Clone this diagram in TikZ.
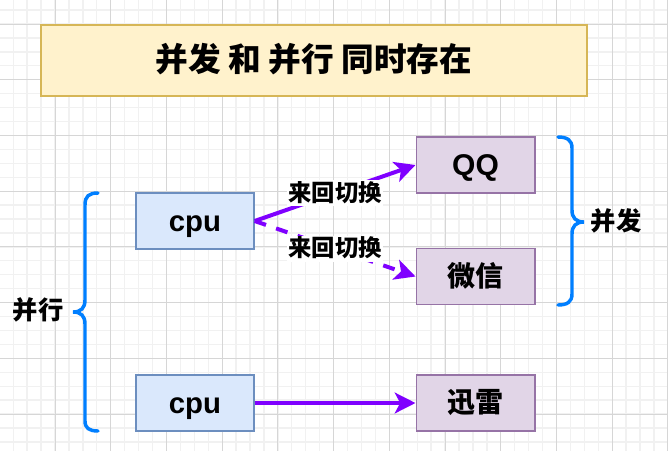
\documentclass[tikz,border=0pt]{standalone}
\usepackage{fontspec}
\setmainfont{Liberation Sans}
\newfontfamily\cjk{Noto Sans CJK SC}
\usetikzlibrary{arrows.meta}
\definecolor{minorc}{HTML}{F1F1F1}
\definecolor{majorc}{HTML}{D6D6D6}
\definecolor{titlefill}{HTML}{FFF2CC}
\definecolor{titledraw}{HTML}{D6B656}
\definecolor{bluefill}{HTML}{DAE8FC}
\definecolor{bluedraw}{HTML}{6C8EBF}
\definecolor{purfill}{HTML}{E1D5E7}
\definecolor{purdraw}{HTML}{9673A6}
\definecolor{arrowc}{HTML}{7F00FF}
\definecolor{bracec}{HTML}{007FFF}
\tikzset{
  minorline/.style={draw=minorc, line width=1pt},
  majorline/.style={draw=majorc, line width=0.7pt},
  titlebox/.style={draw=titledraw, fill=titlefill, line width=1pt, minimum width=409.5pt, minimum height=53.25pt, text height=22pt, text depth=5.1pt, font=\cjk\bfseries\fontsize{24.5}{28}\selectfont},
  cpubox/.style={draw=bluedraw, fill=bluefill, line width=1pt, minimum width=88.5pt, minimum height=42pt, text height=19.8pt, text depth=4.6pt, font=\bfseries\fontsize{22}{25}\selectfont},
  appbox/.style={draw=purdraw, fill=purfill, line width=1pt, minimum width=89pt, minimum height=42pt, text height=20.2pt, text depth=4.7pt, font=\bfseries\fontsize{22.5}{25}\selectfont},
  cjkapp/.style={appbox, text height=18.9pt, text depth=4.4pt, font=\cjk\bfseries\fontsize{21}{24}\selectfont},
  sidelabel/.style={font=\cjk\bfseries\fontsize{19}{22}\selectfont, inner sep=0pt, text height=17.1pt, text depth=4pt},
  edgelabel/.style={fill=white, inner xsep=1pt, inner ysep=0pt, text height=15.75pt, text depth=3.7pt, font=\cjk\bfseries\fontsize{17.5}{20}\selectfont},
  link/.style={draw=arrowc, line width=3pt, -{Stealth[length=15.5pt, width=15.5pt, inset=4pt]}},
  bracepath/.style={draw=bracec, line width=2.6pt, line cap=round},
}
\begin{document}
\begin{tikzpicture}[x=0.75pt, y=-0.75pt]
\useasboundingbox (0,0) rectangle (668,451);
\fill[white] (0,0) rectangle (668,451);
% grid
\foreach \i in {0,...,48} {\draw[minorline] ({-0.7+13.93*\i},0) -- ++(0,451);}
\foreach \i in {-2,...,31} {\draw[minorline] (0,{24+13.93*\i}) -- ++(668,0);}
\foreach \i in {0,...,12} {\draw[majorline] ({-0.7+55.72*\i},0) -- ++(0,451);}
\foreach \i in {-1,...,8} {\draw[majorline] (0,{24+55.72*\i}) -- ++(668,0);}

% title
\node[titlebox] (title) at (314,60.5) {并发 和 并行 同时存在};

% boxes
\node[cpubox] (cpu1) at (195,221) {cpu};
\node[cpubox] (cpu2) at (195,403) {cpu};
\node[appbox] (qq) at (475.5,165) {QQ};
\node[cjkapp] (wx) at (475.5,276.5) {微信};
\node[cjkapp] (xl) at (475.5,403) {迅雷};

% arrows
\draw[link] (cpu1.east) -- (qq.west) node[midway, edgelabel] {来回切换};
\draw[link, dash pattern=on 9pt off 8pt] (cpu1.east) -- (wx.west) node[midway, edgelabel] {来回切换};
\draw[link] (cpu2.east) -- (xl.west);

% braces
\draw[bracepath] (98,193) .. controls (89,193) and (85,196) .. (85,205) -- (85,300)
  .. controls (85,308) and (81,312) .. (73,312) .. controls (81,312) and (85,316) .. (85,324)
  -- (85,421) .. controls (85,428) and (89,431) .. (98,431);
\draw[bracepath] (558,137) .. controls (567,137) and (572,140) .. (572,148) -- (572,210)
  .. controls (572,218) and (576,222) .. (584,222) .. controls (576,222) and (572,226) .. (572,234)
  -- (572,294) .. controls (572,302) and (567,305) .. (558,305);

\node[sidelabel] (bx) at (38,311) {并行};
\node[sidelabel] (bf) at (616,222) {并发};
\end{tikzpicture}
\end{document}
